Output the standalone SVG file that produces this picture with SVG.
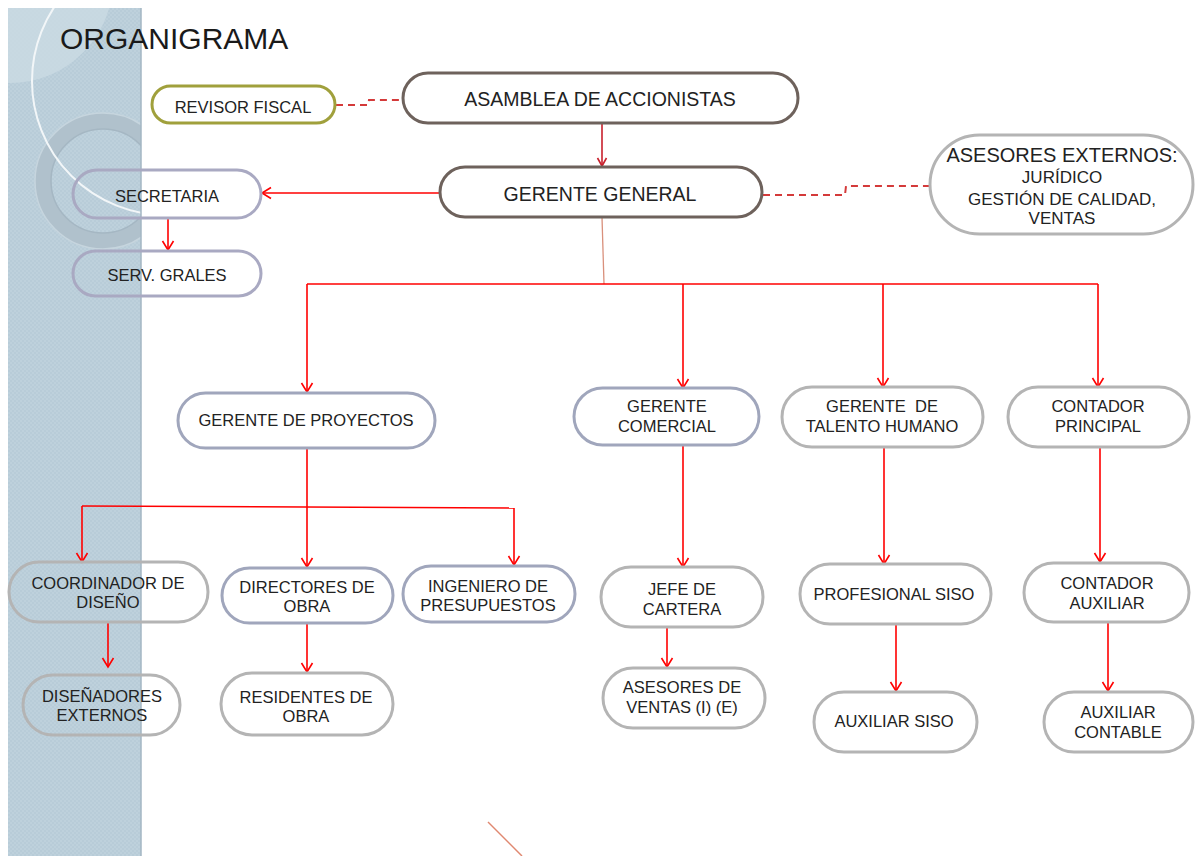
<svg xmlns="http://www.w3.org/2000/svg" width="1196" height="856" viewBox="0 0 1196 856">
<defs>
<style>
text{font-family:"Liberation Sans",Arial,sans-serif;fill:#222;text-anchor:middle;font-size:16.5px}
.n{fill:none;stroke-width:3}
.brown{stroke:#6e625c}
.olive{stroke:#a0a03c}
.lav{stroke:#a9a9c2}
.blue{stroke:#a0a6bc}
.gray{stroke:#b4b4b4}
.c{fill:none;stroke:#ff0000;stroke-width:1.6;marker-end:url(#ah)}
.d{fill:none;stroke:#d43a3a;stroke-width:2;stroke-dasharray:7 5}
</style>
<marker id="ah" viewBox="-10 -7 12 14" refX="0" refY="0" markerWidth="12" markerHeight="14" markerUnits="userSpaceOnUse" orient="auto">
<path d="M-9,-5.5 L0,0 L-9,5.5" fill="none" stroke="#ff0000" stroke-width="1.6"/>
</marker>
<marker id="ahd" viewBox="-10 -7 12 14" refX="0" refY="0" markerWidth="12" markerHeight="14" markerUnits="userSpaceOnUse" orient="auto">
<path d="M-8,-4.5 L0,0 L-8,4.5" fill="none" stroke="#c8202c" stroke-width="1.6"/>
</marker>
<pattern id="chk" width="4" height="4" patternUnits="userSpaceOnUse">
<rect width="4" height="4" fill="#b8ccd8"/>
<rect width="2" height="2" fill="#bed1dc"/>
<rect x="2" y="2" width="2" height="2" fill="#bed1dc"/>
</pattern>
<clipPath id="pc"><rect x="8" y="8" width="133" height="848"/></clipPath>
</defs>
<rect width="1196" height="856" fill="#ffffff"/>
<g id="panel">
<rect x="8" y="8" width="133" height="848" fill="url(#chk)"/>
<g clip-path="url(#pc)">
<circle cx="10" cy="-20" r="103" fill="#cadbe4" opacity="0.8"/>
<circle cx="103" cy="181" r="60" fill="none" stroke="#b0c1cc" stroke-width="16"/>
<circle cx="103" cy="181" r="68" fill="none" stroke="#c6d5de" stroke-width="1.5"/>
<circle cx="103" cy="181" r="52" fill="none" stroke="#a5b7c3" stroke-width="1.5"/>
<circle cx="166" cy="81" r="134" fill="none" stroke="#f2f6f8" stroke-width="2"/>
</g>
<line x1="141" y1="8" x2="141" y2="856" stroke="#a3b6c3" stroke-width="1.5"/>
</g>
<text id="title" x="60" y="49" style="font-size:30px;text-anchor:start;fill:#1a1a1a">ORGANIGRAMA</text>
<g id="connectors">
<path d="M602,123 V166" fill="none" stroke="#c8202c" stroke-width="1.6" marker-end="url(#ahd)"/>
<path class="c" d="M440,193 H262"/>
<path class="c" d="M168,218 V250"/>
<path d="M602,217 L604,284" fill="none" stroke="#d9907c" stroke-width="1.3"/>
<path d="M307,284 H1098" fill="none" stroke="#ff0000" stroke-width="1.6"/>
<path class="c" d="M307,284 V392"/>
<path class="c" d="M683,284 V388"/>
<path class="c" d="M883,284 V387"/>
<path class="c" d="M1098,284 V387"/>
<path class="c" d="M307,448 V567"/>
<path d="M82,506 L514,508" fill="none" stroke="#ff0000" stroke-width="1.6"/>
<path class="c" d="M82,506 V562"/>
<path class="c" d="M514,508 V565"/>
<path class="c" d="M108,622 V667"/>
<path class="c" d="M307,623 V672"/>
<path class="c" d="M683,445 V567"/>
<path class="c" d="M884,447 V564"/>
<path class="c" d="M1100,447 V562"/>
<path class="c" d="M667,627 V667"/>
<path class="c" d="M896,624 V691"/>
<path class="c" d="M1108,622 V691"/>
<path class="d" d="M336,105 H368 L369,100 H402"/>
<path class="d" d="M763,195 H845 L846,186 H929"/>
<path d="M488,822 L522,856" fill="none" stroke="#e08870" stroke-width="1.5"/>
</g>
<g id="revisor"><rect class="n olive" x="152" y="86" width="183" height="37" rx="18.5"/><text x="243" y="113">REVISOR FISCAL</text></g>
<g id="asamblea"><rect class="n brown" x="403" y="73" width="395" height="50" rx="25"/><text x="600" y="106" style="font-size:19.5px">ASAMBLEA DE ACCIONISTAS</text></g>
<g id="gerente-general"><rect class="n brown" x="440" y="167" width="322" height="50" rx="25"/><text x="600" y="201" style="font-size:19.5px">GERENTE GENERAL</text></g>
<g id="asesores-externos"><rect class="n gray" x="930" y="135" width="263" height="99" rx="49.5"/>
<text x="1062" y="162" style="font-size:20px">ASESORES EXTERNOS:</text>
<text x="1062" y="183" style="font-size:17px">JURÍDICO</text>
<text x="1062" y="205" style="font-size:17px">GESTIÓN DE CALIDAD,</text>
<text x="1062" y="224" style="font-size:17px">VENTAS</text></g>
<g id="secretaria"><rect class="n lav" x="73" y="170" width="188" height="48" rx="24"/><text x="167" y="202">SECRETARIA</text></g>
<g id="serv-grales"><rect class="n lav" x="73" y="251" width="188" height="45" rx="22.5"/><text x="167" y="281">SERV. GRALES</text></g>
<g id="gerente-proyectos"><rect class="n blue" x="178" y="393" width="257" height="55" rx="27.5"/><text x="306" y="426">GERENTE DE PROYECTOS</text></g>
<g id="gerente-comercial"><rect class="n blue" x="574" y="388" width="185" height="57" rx="28.5"/><text x="667" y="412">GERENTE</text><text x="667" y="432">COMERCIAL</text></g>
<g id="gerente-talento"><rect class="n gray" x="782" y="387" width="201" height="60" rx="30"/><text x="882" y="412" xml:space="preserve">GERENTE  DE</text><text x="882" y="432">TALENTO HUMANO</text></g>
<g id="contador-principal"><rect class="n gray" x="1008" y="387" width="181" height="60" rx="30"/><text x="1098" y="412">CONTADOR</text><text x="1098" y="432">PRINCIPAL</text></g>
<g id="coordinador"><rect class="n gray" x="9" y="562" width="199" height="60" rx="30"/><text x="108" y="589">COORDINADOR DE</text><text x="108" y="608">DISEÑO</text></g>
<g id="directores"><rect class="n blue" x="222" y="568" width="171" height="55" rx="27.5"/><text x="307" y="593">DIRECTORES DE</text><text x="307" y="612">OBRA</text></g>
<g id="ingeniero"><rect class="n blue" x="403" y="566" width="172" height="56" rx="28"/><text x="488" y="592">INGENIERO DE</text><text x="488" y="611">PRESUPUESTOS</text></g>
<g id="jefe-cartera"><rect class="n gray" x="601" y="567" width="162" height="60" rx="30"/><text x="682" y="595">JEFE DE</text><text x="682" y="615">CARTERA</text></g>
<g id="profesional-siso"><rect class="n gray" x="800" y="564" width="191" height="60" rx="30"/><text x="894" y="600">PROFESIONAL SISO</text></g>
<g id="contador-auxiliar"><rect class="n gray" x="1024" y="563" width="165" height="59" rx="29.5"/><text x="1107" y="589">CONTADOR</text><text x="1107" y="609">AUXILIAR</text></g>
<g id="disenadores"><rect class="n gray" x="23" y="675" width="157" height="60" rx="30"/><text x="102" y="702">DISEÑADORES</text><text x="102" y="721">EXTERNOS</text></g>
<g id="residentes"><rect class="n gray" x="221" y="673" width="172" height="62" rx="31"/><text x="306" y="703">RESIDENTES DE</text><text x="306" y="722">OBRA</text></g>
<g id="asesores-ventas"><rect class="n gray" x="603" y="668" width="162" height="60" rx="30"/><text x="682" y="693">ASESORES DE</text><text x="682" y="713">VENTAS (I) (E)</text></g>
<g id="auxiliar-siso"><rect class="n gray" x="814" y="692" width="163" height="60" rx="30"/><text x="894" y="727">AUXILIAR SISO</text></g>
<g id="auxiliar-contable"><rect class="n gray" x="1044" y="692" width="149" height="60" rx="30"/><text x="1118" y="718">AUXILIAR</text><text x="1118" y="738">CONTABLE</text></g>
</svg>
